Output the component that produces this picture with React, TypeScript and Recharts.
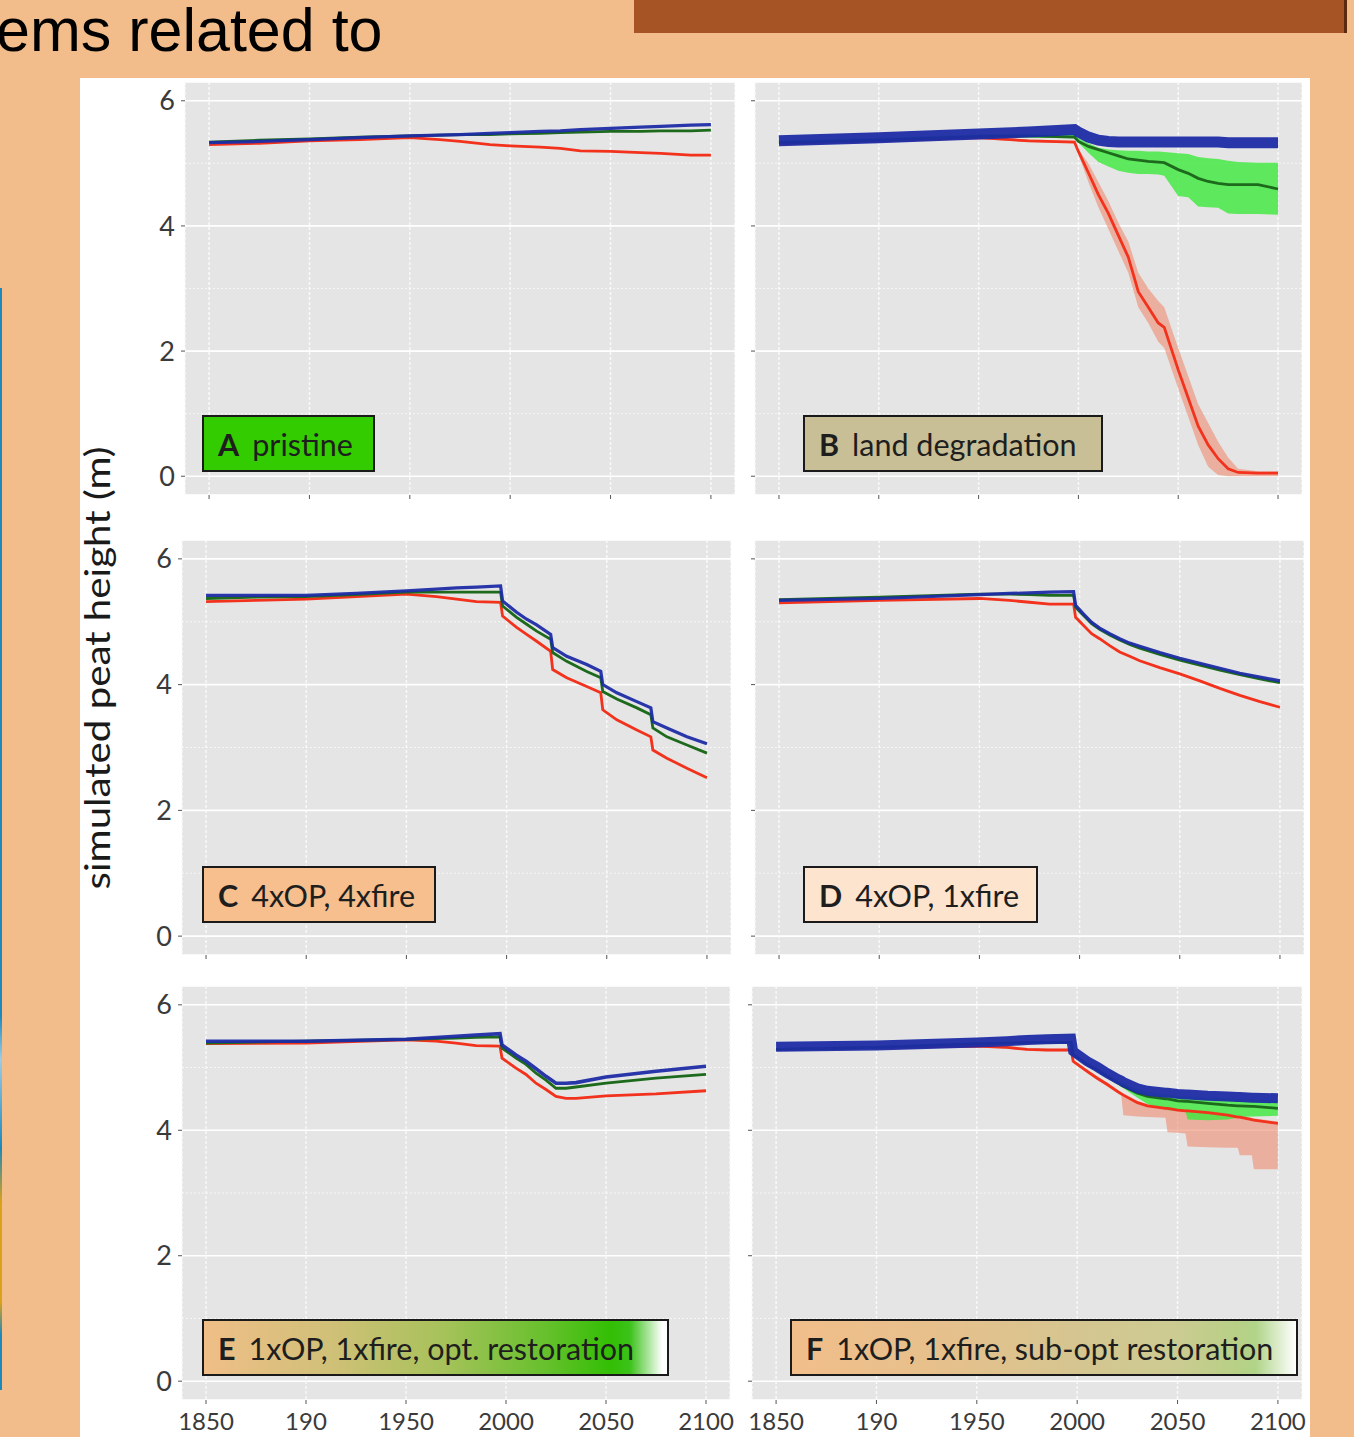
import React from 'react';
import { ComposedChart, Line, Area, XAxis, YAxis, CartesianGrid } from 'recharts';

const xTicks = [1850, 1900, 1950, 2000, 2050, 2100];
const xTickLabels = ['1850', '190', '1950', '2000', '2050', '2100'];
const yTicks = [0, 2, 4, 6];
const yMinor = [1, 3, 5];

// A pristine
const yearsA = [1850, 1875, 1900, 1925, 1950, 1965, 1975, 1990, 2000, 2015, 2025, 2035, 2050, 2065, 2075, 2090, 2100];
const redA = [5.30, 5.32, 5.36, 5.38, 5.41, 5.38, 5.35, 5.30, 5.28, 5.26, 5.24, 5.20, 5.19, 5.17, 5.16, 5.13, 5.13];
const greenA = [5.34, 5.37, 5.39, 5.42, 5.44, 5.45, 5.46, 5.46, 5.47, 5.48, 5.49, 5.50, 5.51, 5.51, 5.52, 5.52, 5.53];
const blueA = [5.33, 5.35, 5.38, 5.41, 5.44, 5.45, 5.46, 5.48, 5.49, 5.51, 5.52, 5.54, 5.56, 5.58, 5.59, 5.61, 5.62];

// B land degradation
const yearsB = [1850, 1900, 1950, 1975, 1998, 2000, 2005, 2010, 2015, 2020, 2025, 2030, 2035, 2040, 2043, 2050, 2055, 2060, 2065, 2070, 2075, 2080, 2090, 2100];
const blueB = [5.36, 5.41, 5.47, 5.50, 5.54, 5.50, 5.42, 5.37, 5.35, 5.34, 5.34, 5.34, 5.34, 5.34, 5.34, 5.34, 5.34, 5.34, 5.34, 5.34, 5.33, 5.33, 5.33, 5.33];
const greenB = [5.33, 5.37, 5.43, 5.44, 5.42, 5.35, 5.27, 5.22, 5.17, 5.12, 5.07, 5.05, 5.03, 5.02, 5.01, 4.90, 4.84, 4.76, 4.71, 4.68, 4.66, 4.66, 4.66, 4.59];
const greenLoB = [5.30, 5.34, 5.40, 5.41, 5.40, 5.33, 5.17, 5.02, 4.95, 4.88, 4.85, 4.83, 4.83, 4.82, 4.80, 4.48, 4.46, 4.31, 4.30, 4.29, 4.20, 4.19, 4.19, 4.18];
const greenHiB = [5.37, 5.41, 5.46, 5.47, 5.46, 5.40, 5.32, 5.25, 5.22, 5.21, 5.20, 5.20, 5.19, 5.19, 5.18, 5.16, 5.15, 5.10, 5.08, 5.07, 5.04, 5.02, 5.01, 5.01];
const redB = [5.32, 5.36, 5.41, 5.36, 5.34, 5.19, 4.85, 4.50, 4.20, 3.85, 3.50, 2.95, 2.70, 2.45, 2.38, 1.70, 1.25, 0.80, 0.50, 0.28, 0.12, 0.06, 0.05, 0.05];
const redLoB = [5.30, 5.34, 5.39, 5.34, 5.32, 5.15, 4.70, 4.30, 3.95, 3.60, 3.25, 2.70, 2.45, 2.15, 2.05, 1.40, 0.95, 0.50, 0.15, 0.02, 0.00, 0.00, 0.00, 0.00];
const redHiB = [5.34, 5.38, 5.43, 5.38, 5.36, 5.22, 5.00, 4.70, 4.40, 4.05, 3.75, 3.25, 3.00, 2.80, 2.70, 2.05, 1.60, 1.15, 0.85, 0.55, 0.30, 0.12, 0.08, 0.08];

// C 4xOP, 4xfire
const yearsC = [1850, 1875, 1900, 1925, 1950, 1965, 1975, 1985, 1997, 1998, 2005, 2010, 2015, 2022, 2023, 2030, 2040, 2047, 2048, 2055, 2065, 2072, 2073, 2080, 2090, 2100];
const blueC = [5.42, 5.42, 5.42, 5.45, 5.49, 5.52, 5.54, 5.55, 5.57, 5.33, 5.15, 5.04, 4.95, 4.80, 4.59, 4.45, 4.32, 4.21, 4.00, 3.87, 3.73, 3.63, 3.41, 3.31, 3.17, 3.06];
const greenC = [5.37, 5.39, 5.40, 5.43, 5.47, 5.47, 5.47, 5.47, 5.47, 5.25, 5.07, 4.96, 4.85, 4.72, 4.51, 4.37, 4.21, 4.11, 3.89, 3.77, 3.63, 3.52, 3.31, 3.17, 3.04, 2.91];
const redC = [5.32, 5.34, 5.36, 5.40, 5.44, 5.40, 5.36, 5.32, 5.31, 5.09, 4.91, 4.80, 4.69, 4.53, 4.24, 4.11, 3.97, 3.87, 3.60, 3.44, 3.28, 3.17, 2.96, 2.83, 2.67, 2.52];

// D 4xOP, 1xfire
const yearsD = [1850, 1900, 1950, 1965, 1975, 1985, 1997, 1998, 2002, 2006, 2010, 2015, 2020, 2025, 2030, 2040, 2050, 2060, 2070, 2080, 2090, 2100];
const blueD = [5.34, 5.37, 5.43, 5.45, 5.46, 5.47, 5.48, 5.26, 5.12, 4.99, 4.90, 4.81, 4.73, 4.66, 4.61, 4.51, 4.42, 4.34, 4.26, 4.18, 4.12, 4.06];
const greenD = [5.35, 5.39, 5.44, 5.44, 5.43, 5.42, 5.42, 5.23, 5.10, 4.97, 4.88, 4.79, 4.71, 4.64, 4.58, 4.48, 4.39, 4.31, 4.23, 4.16, 4.09, 4.03];
const redD = [5.30, 5.34, 5.37, 5.34, 5.31, 5.28, 5.28, 5.07, 4.94, 4.81, 4.73, 4.62, 4.52, 4.45, 4.38, 4.27, 4.17, 4.06, 3.94, 3.83, 3.73, 3.64];

// E 1xOP, 1xfire, opt. restoration
const yearsE = [1850, 1900, 1950, 1965, 1975, 1985, 1997, 1998, 2005, 2010, 2015, 2020, 2025, 2030, 2035, 2050, 2075, 2100];
const blueE = [5.42, 5.42, 5.45, 5.48, 5.50, 5.52, 5.54, 5.36, 5.20, 5.10, 4.98, 4.86, 4.75, 4.75, 4.76, 4.85, 4.94, 5.02];
const greenE = [5.39, 5.42, 5.45, 5.46, 5.47, 5.48, 5.49, 5.31, 5.15, 5.05, 4.91, 4.80, 4.67, 4.67, 4.69, 4.75, 4.83, 4.89];
const redE = [5.38, 5.39, 5.44, 5.42, 5.39, 5.35, 5.34, 5.15, 4.99, 4.89, 4.75, 4.65, 4.54, 4.51, 4.51, 4.55, 4.58, 4.63];

// F 1xOP, 1xfire, sub-opt restoration
const yearsF = [1850, 1900, 1950, 1965, 1975, 1985, 1997, 1998, 2005, 2010, 2015, 2020, 2022, 2023, 2030, 2035, 2044, 2045, 2050, 2054, 2055, 2065, 2075, 2080, 2081, 2087, 2088, 2100];
const blueF = [5.33, 5.35, 5.40, 5.42, 5.44, 5.45, 5.46, 5.26, 5.10, 5.01, 4.91, 4.82, 4.79, 4.77, 4.67, 4.63, 4.60, 4.60, 4.58, 4.57, 4.57, 4.55, 4.54, 4.53, 4.53, 4.52, 4.52, 4.51];
const greenF = [5.29, 5.32, 5.38, 5.39, 5.40, 5.40, 5.40, 5.21, 5.05, 4.96, 4.86, 4.76, 4.72, 4.70, 4.59, 4.54, 4.50, 4.50, 4.47, 4.46, 4.46, 4.43, 4.40, 4.39, 4.39, 4.38, 4.38, 4.35];
const greenLoF = [5.27, 5.30, 5.36, 5.37, 5.38, 5.38, 5.38, 5.19, 5.03, 4.94, 4.84, 4.73, 4.69, 4.67, 4.52, 4.42, 4.33, 4.32, 4.31, 4.30, 4.17, 4.16, 4.17, 4.20, 4.21, 4.22, 4.22, 4.23];
const greenHiF = [5.31, 5.34, 5.40, 5.41, 5.42, 5.42, 5.42, 5.24, 5.08, 4.99, 4.89, 4.80, 4.77, 4.76, 4.65, 4.61, 4.57, 4.57, 4.55, 4.54, 4.54, 4.52, 4.51, 4.50, 4.50, 4.49, 4.49, 4.48];
const redF = [5.29, 5.32, 5.34, 5.32, 5.29, 5.28, 5.28, 5.10, 4.94, 4.83, 4.73, 4.62, 4.58, 4.56, 4.44, 4.39, 4.35, 4.35, 4.32, 4.31, 4.31, 4.28, 4.24, 4.21, 4.21, 4.17, 4.16, 4.11];
const redLoF = [5.27, 5.30, 5.32, 5.30, 5.27, 5.26, 5.26, 5.07, 4.91, 4.80, 4.70, 4.59, 4.55, 4.24, 4.22, 4.21, 4.20, 3.97, 3.96, 3.95, 3.74, 3.73, 3.72, 3.72, 3.60, 3.60, 3.38, 3.38];
const redHiF = [5.31, 5.34, 5.36, 5.34, 5.31, 5.30, 5.30, 5.13, 4.97, 4.86, 4.76, 4.65, 4.61, 4.59, 4.47, 4.42, 4.38, 4.38, 4.35, 4.34, 4.34, 4.31, 4.27, 4.24, 4.24, 4.20, 4.19, 4.14];

const RED = '#F2321C';
const GREEN = '#1D6A1D';
const BLUE = '#1E2CA6';
const BAND_GREEN = '#3BE83B';
const BAND_RED = '#EE8A72';
const PANEL_BG = '#E5E5E5';
const AX_W = 50;
const AX_H = 45;

const buildRows = (years: number[], s: any) =>
  years.map((year, i) => ({
    year,
    red: s.red[i],
    green: s.green[i],
    blue: s.blue[i],
    redBand: s.redLo ? [s.redLo[i], s.redHi[i]] : undefined,
    greenBand: s.greenLo ? [s.greenLo[i], s.greenHi[i]] : undefined,
  }));

const panels = [
  { key: 'A', x: 185, y: 82, w: 550, h: 413, padR: 0, rows: buildRows(yearsA, { red: redA, green: greenA, blue: blueA }), yLabels: true, xLabels: false, blueW: 3.2,
    box: { x: 202, y: 415, w: 173, letter: 'A', text: 'pristine', bg: '#33CC00' } },
  { key: 'B', x: 755, y: 82, w: 547, h: 413, padR: 0, rows: buildRows(yearsB, { red: redB, green: greenB, blue: blueB, redLo: redLoB, redHi: redHiB, greenLo: greenLoB, greenHi: greenHiB }), yLabels: false, xLabels: false, blueW: 11,
    box: { x: 803, y: 415, w: 300, letter: 'B', text: 'land degradation', bg: '#C9BF96' } },
  { key: 'C', x: 182, y: 540, w: 549, h: 415, padR: 0, rows: buildRows(yearsC, { red: redC, green: greenC, blue: blueC }), yLabels: true, xLabels: false, blueW: 3.2,
    box: { x: 202, y: 866, w: 234, letter: 'C', text: '4xOP, 4xfire', bg: '#F6BF8D' } },
  { key: 'D', x: 755, y: 540, w: 549, h: 415, padR: 0, rows: buildRows(yearsD, { red: redD, green: greenD, blue: blueD }), yLabels: false, xLabels: false, blueW: 3.2,
    box: { x: 803, y: 866, w: 235, letter: 'D', text: '4xOP, 1xfire', bg: '#FCE4CF' } },
  { key: 'E', x: 182, y: 986, w: 548, h: 414, padR: 20, rows: buildRows(yearsE, { red: redE, green: greenE, blue: blueE }), yLabels: true, xLabels: true, blueW: 3.6,
    box: { x: 202, y: 1319, w: 467, letter: 'E', text: '1xOP, 1xfire, opt. restoration',
      bg: 'linear-gradient(to right, #F0BE88 0%, #CFC077 28%, #A6C25A 52%, #66C02C 74%, #32BF04 88%, #3CC21A 92%, #FFFFFF 99%)' } },
  { key: 'F', x: 752, y: 986, w: 550, h: 414, padR: 12, rows: buildRows(yearsF, { red: redF, green: greenF, blue: blueF, redLo: redLoF, redHi: redHiF, greenLo: greenLoF, greenHi: greenHiF }), yLabels: false, xLabels: true, blueW: 10,
    box: { x: 790, y: 1319, w: 508, letter: 'F', text: '1xOP, 1xfire, sub-opt restoration',
      bg: 'linear-gradient(to right, #F1BE8A 0%, #E6C08C 30%, #D6C590 55%, #CCCB92 76%, #B8D086 88%, #B0D488 92%, #FFFFFF 100%)' } },
];

const tickFont = { fill: '#3A3A3A', fontSize: 27, fontFamily: 'Lato, "Open Sans", sans-serif' };
const xTickFont = { fill: '#3A3A3A', fontSize: 24, fontFamily: 'Lato, "Open Sans", sans-serif' };

const Panel = ({ p }: { p: any }) => (
  <div style={{ position: 'absolute', left: p.x - AX_W, top: p.y }}>
    <ComposedChart width={p.w + AX_W + p.padR} height={p.h + AX_H} data={p.rows} margin={{ top: 0, right: p.padR, bottom: 0, left: 0 }}>
      <CartesianGrid horizontal vertical={false} fill={PANEL_BG} stroke="#FFFFFF" strokeWidth={1.6} />
      <CartesianGrid horizontal vertical={false} horizontalValues={yMinor} stroke="#F6F6F6" strokeWidth={1} strokeDasharray="2 2" />
      <CartesianGrid horizontal={false} vertical stroke="#FAFAFA" strokeWidth={1.4} strokeDasharray="3 2" />
      <XAxis
        type="number"
        dataKey="year"
        domain={[1838, 2112]}
        allowDataOverflow
        ticks={xTicks}
        height={AX_H}
        axisLine={false}
        tickLine={{ stroke: '#555' }}
        tickSize={4}
        tickMargin={9}
        tick={xTickFont}
        tickFormatter={(v: number) => (p.xLabels ? xTickLabels[xTicks.indexOf(v)] : '')}
        interval={0}
      />
      <YAxis
        type="number"
        domain={[-0.3, 6.3]}
        allowDataOverflow
        ticks={yTicks}
        width={AX_W}
        axisLine={false}
        tickLine={{ stroke: '#555' }}
        tickSize={4}
        tickMargin={6}
        tick={tickFont}
        tickFormatter={(v: number) => (p.yLabels ? String(v) : '')}
        interval={0}
      />
      {p.rows[0].redBand && (
        <Area dataKey="redBand" type="linear" stroke="none" fill={BAND_RED} fillOpacity={0.6} isAnimationActive={false} />
      )}
      <Line dataKey="red" type="linear" stroke={RED} strokeWidth={2.8} dot={false} isAnimationActive={false} />
      {p.rows[0].greenBand && (
        <Area dataKey="greenBand" type="linear" stroke="none" fill={BAND_GREEN} fillOpacity={0.8} isAnimationActive={false} />
      )}
      <Line dataKey="green" type="linear" stroke={GREEN} strokeWidth={2.8} dot={false} isAnimationActive={false} />
      <Line dataKey="blue" type="linear" stroke={BLUE} strokeWidth={p.blueW} strokeOpacity={0.95} dot={false} isAnimationActive={false} />
    </ComposedChart>
  </div>
);

const Box = ({ b }: { b: any }) => (
  <div
    style={{
      position: 'absolute',
      left: b.x,
      top: b.y,
      width: b.w,
      height: 57,
      boxSizing: 'border-box',
      border: '2px solid #1A1A1A',
      background: b.bg,
      display: 'flex',
      alignItems: 'center',
      paddingLeft: 14,
      fontFamily: 'Lato, "Open Sans", sans-serif',
      fontSize: 30.5,
      color: '#1E1E1E',
      whiteSpace: 'nowrap',
      overflow: 'hidden',
    }}
  >
    <span style={{ fontWeight: 700, marginRight: 13 }}>{b.letter}</span>
    <span>{b.text}</span>
  </div>
);

export default function App() {
  return (
    <div style={{ position: 'absolute', left: 0, top: 0, width: 1354, height: 1437, overflow: 'hidden', background: '#F2BD8B' }}>
      <div
        style={{
          position: 'absolute',
          left: -4,
          top: 0,
          fontFamily: '"Liberation Sans", Arial, sans-serif',
          fontSize: 61,
          lineHeight: 1,
          color: '#000',
          whiteSpace: 'nowrap',
        }}
      >
        ems related to
      </div>
      <div style={{ position: 'absolute', left: 634, top: 0, width: 710, height: 33, background: '#A65426', borderRight: '3px solid #5A2A10' }} />
      <div
        style={{
          position: 'absolute',
          left: 0,
          top: 288,
          width: 2,
          height: 1102,
          background: 'linear-gradient(to bottom, #1C88BC 0%, #1C88BC 66%, #9CCBE6 70%, #1C88BC 78%, #D9A21A 83%, #D9A21A 92%, #1C88BC 95%)',
        }}
      />
      <div style={{ position: 'absolute', left: 80, top: 78, width: 1230, height: 1359, background: '#FFFFFF', overflow: 'hidden' }} />
      <svg style={{ position: 'absolute', left: 0, top: 0 }} width={1354} height={1437}>
        <text
          transform="translate(110,668) rotate(-90)"
          textAnchor="middle"
          textLength={443}
          lengthAdjust="spacingAndGlyphs"
          fontFamily='Lato, "Open Sans", sans-serif'
          fontSize={35}
          fill="#1A1A1A"
        >
          simulated peat height (m)
        </text>
      </svg>
      {panels.map((p) => (
        <Panel key={p.key} p={p} />
      ))}
      {panels.map((p) => (
        <Box key={p.key + 'box'} b={p.box} />
      ))}
    </div>
  );
}
